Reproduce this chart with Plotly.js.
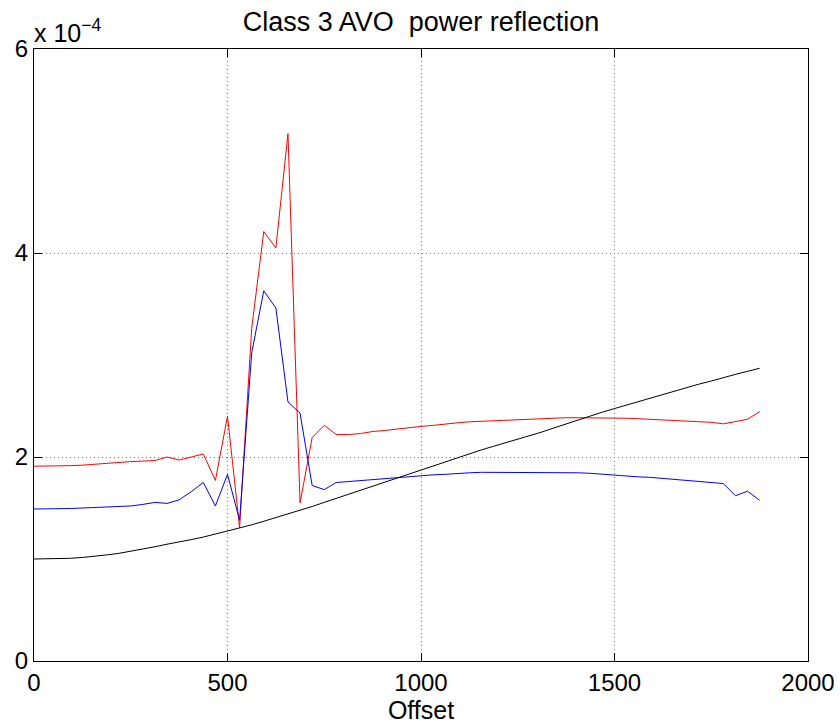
<!DOCTYPE html>
<html>
<head>
<meta charset="utf-8">
<script src="https://cdn.plot.ly/plotly-3.0.1.min.js"></script>
<style>html,body{margin:0;padding:0;background:#fff;}</style>
</head>
<body>
<div id="chart" style="width:840px;height:728px;"></div>
<script>
// Offsets (sample spacing 31.25)
const offsets = [0,31.25,62.5,93.75,125,156.25,187.5,218.75,250,281.25,312.5,343.75,375,406.25,437.5,468.75,500,531.25,562.5,593.75,625,656.25,687.5,718.75,750,781.25,812.5,843.75,875,906.25,937.5,968.75,1000,1031.25,1062.5,1093.75,1125,1156.25,1187.5,1218.75,1250,1281.25,1312.5,1343.75,1375,1406.25,1437.5,1468.75,1500,1531.25,1562.5,1593.75,1625,1656.25,1687.5,1718.75,1750,1781.25,1812.5,1843.75,1875];

// Power reflection values, in units of 1e-4
const redSeries = [1.91,1.91,1.91,1.915,1.92,1.93,1.94,1.95,1.955,1.96,1.965,2.00,1.97,2.00,2.03,1.77,2.40,1.31,3.26,4.21,4.05,5.17,1.55,2.19,2.31,2.22,2.22,2.23,2.25,2.26,2.275,2.29,2.30,2.31,2.325,2.335,2.345,2.35,2.36,2.365,2.37,2.375,2.38,2.38,2.385,2.385,2.385,2.385,2.385,2.38,2.375,2.37,2.365,2.36,2.355,2.35,2.34,2.325,2.35,2.37,2.445];

const blueSeries = [1.49,1.49,1.49,1.495,1.50,1.505,1.51,1.515,1.52,1.535,1.555,1.545,1.58,1.66,1.75,1.52,1.83,1.38,3.02,3.63,3.46,2.54,2.43,1.72,1.68,1.75,1.76,1.77,1.78,1.79,1.80,1.81,1.815,1.825,1.83,1.84,1.845,1.85,1.85,1.85,1.85,1.85,1.85,1.85,1.85,1.845,1.84,1.83,1.82,1.815,1.805,1.80,1.79,1.78,1.77,1.76,1.75,1.74,1.62,1.665,1.575];

const blackSeries = [1.00,1.00,1.002,1.007,1.015,1.025,1.04,1.055,1.075,1.095,1.12,1.145,1.165,1.19,1.215,1.245,1.27,1.30,1.335,1.37,1.405,1.44,1.48,1.515,1.555,1.595,1.635,1.675,1.715,1.755,1.795,1.835,1.87,1.91,1.95,1.99,2.035,2.07,2.105,2.14,2.17,2.205,2.245,2.285,2.325,2.36,2.40,2.44,2.475,2.51,2.545,2.58,2.615,2.65,2.685,2.715,2.745,2.78,2.81,2.84,2.87];

const xTicks = [0,500,1000,1500,2000];
const yTicks = [0,2,4,6];

const FONT = 'Liberation Sans, Arial, Helvetica, sans-serif';

const traces = [
  {x: offsets, y: redSeries, mode: 'lines', line: {color: '#ff0000', width: 1}, name: 'red'},
  {x: offsets, y: blueSeries, mode: 'lines', line: {color: '#0000ff', width: 1}, name: 'blue'},
  {x: offsets, y: blackSeries, mode: 'lines', line: {color: '#000000', width: 1}, name: 'black'}
];

const axisCommon = {
  showline: true, linecolor: '#000', linewidth: 1, mirror: 'ticks',
  ticks: 'inside', ticklen: 8, tickcolor: '#000', tickwidth: 1,
  showgrid: true, gridcolor: '#777', griddash: '1px,3px', gridwidth: 1,
  zeroline: false,
  tickfont: {family: FONT, size: 24, color: '#000'}
};

const layout = {
  width: 840, height: 728,
  paper_bgcolor: '#fff', plot_bgcolor: '#fff',
  showlegend: false,
  margin: {l: 34, r: 32, t: 49, b: 67},
  title: {text: 'Class 3 AVO  power reflection', font: {family: FONT, size: 27, color: '#000'},
          x: 0.5, xref: 'paper', y: 0.97, yref: 'container', yanchor: 'middle'},
  xaxis: Object.assign({}, axisCommon, {
    range: [0, 2000], tickvals: xTicks, ticktext: xTicks.map(String),
    title: {text: 'Offset', font: {family: FONT, size: 25, color: '#000'}, standoff: 4}
  }),
  yaxis: Object.assign({}, axisCommon, {
    range: [0, 6], tickvals: yTicks, ticktext: yTicks.map(String)
  }),
  annotations: [{
    text: 'x 10<sup>\u22124</sup>', xref: 'paper', yref: 'paper', x: 0, y: 1,
    xanchor: 'left', yanchor: 'bottom', showarrow: false, xshift: -2, yshift: 0,
    font: {family: FONT, size: 25, color: '#000'}
  }]
};

Plotly.newPlot('chart', traces, layout, {displayModeBar: false, staticPlot: true});
</script>
</body>
</html>
